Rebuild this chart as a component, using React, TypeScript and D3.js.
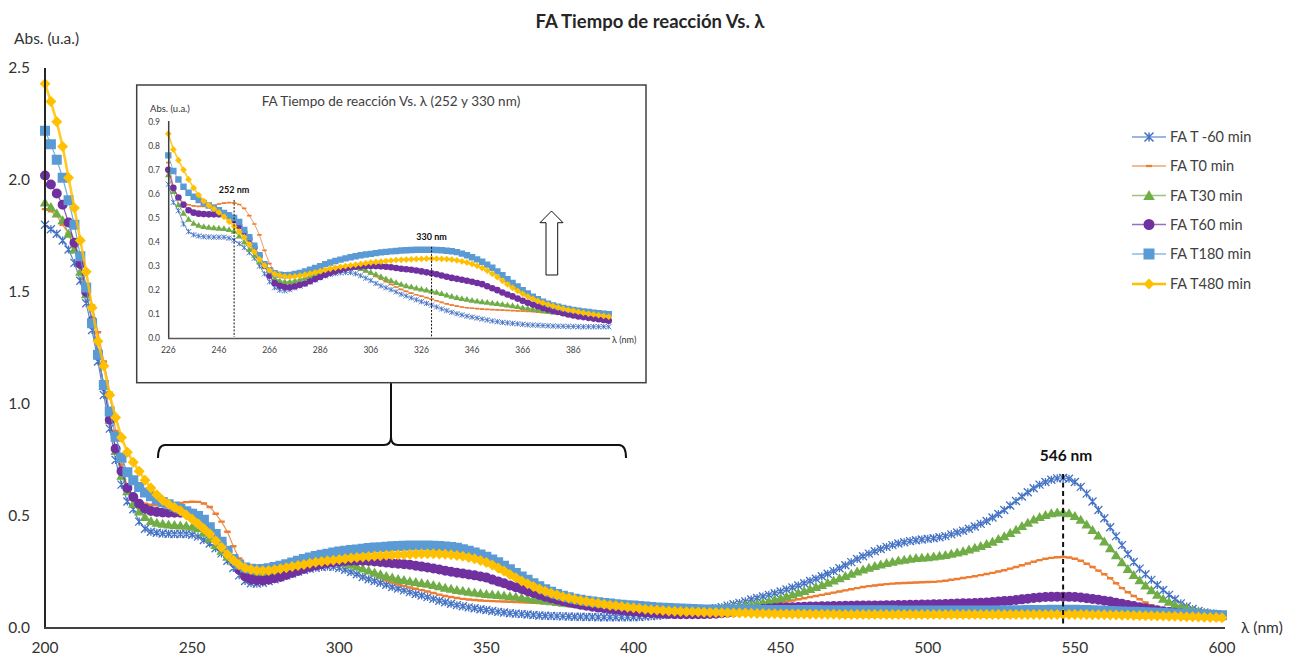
import React from "react";
import * as d3 from "d3";

// Absorbance spectra of FA at different reaction times, sampled every 2 nm from 200 to 600 nm.
const START_NM = 200;
const STEP_NM = 2;

const tMinus60 = [
  1.80, 1.78, 1.76, 1.73, 1.69, 1.63, 1.55, 1.45, 1.33, 1.19,
  1.04, 0.89, 0.75, 0.64, 0.565, 0.53, 0.475, 0.443, 0.43, 0.425,
  0.422, 0.421, 0.42, 0.42, 0.42, 0.416, 0.408, 0.393, 0.377, 0.356,
  0.333, 0.30, 0.268, 0.235, 0.21, 0.20, 0.198, 0.202, 0.21, 0.218,
  0.226, 0.235, 0.243, 0.252, 0.259, 0.265, 0.269, 0.272, 0.274, 0.273,
  0.268, 0.26, 0.25, 0.24, 0.228, 0.218, 0.21, 0.202, 0.193, 0.183,
  0.176, 0.168, 0.16, 0.152, 0.145, 0.138, 0.13, 0.122, 0.115, 0.108,
  0.102, 0.097, 0.092, 0.088, 0.084, 0.08, 0.076, 0.072, 0.069, 0.066,
  0.064, 0.062, 0.06, 0.058, 0.056, 0.055, 0.054, 0.053, 0.052, 0.051,
  0.05, 0.05, 0.049, 0.049, 0.048, 0.048, 0.048, 0.048, 0.048, 0.048,
  0.048, 0.049, 0.051, 0.053, 0.055, 0.058, 0.061, 0.064, 0.067, 0.07,
  0.073, 0.076, 0.08, 0.084, 0.088, 0.093, 0.1, 0.106, 0.112, 0.119,
  0.127, 0.134, 0.141, 0.148, 0.155, 0.163, 0.172, 0.181, 0.19, 0.2,
  0.21, 0.22, 0.231, 0.242, 0.254, 0.267, 0.28, 0.294, 0.308, 0.32,
  0.332, 0.343, 0.353, 0.362, 0.37, 0.377, 0.383, 0.388, 0.392, 0.395,
  0.398, 0.401, 0.405, 0.41, 0.418, 0.426, 0.434, 0.443, 0.453, 0.465,
  0.478, 0.493, 0.509, 0.527, 0.547, 0.567, 0.587, 0.606, 0.624, 0.64,
  0.652, 0.662, 0.668, 0.67, 0.666, 0.652, 0.63, 0.60, 0.565, 0.527,
  0.49, 0.45, 0.41, 0.37, 0.33, 0.295, 0.265, 0.24, 0.215, 0.192,
  0.17, 0.148, 0.128, 0.11, 0.096, 0.085, 0.076, 0.069, 0.064, 0.06,
  0.057,
];

const t0 = [
  1.87, 1.86, 1.84, 1.80, 1.76, 1.70, 1.62, 1.53, 1.44, 1.32,
  1.19, 1.05, 0.88, 0.73, 0.63, 0.585, 0.565, 0.555, 0.55, 0.548,
  0.548, 0.55, 0.553, 0.558, 0.562, 0.564, 0.563, 0.556, 0.54, 0.51,
  0.475, 0.43, 0.365, 0.31, 0.28, 0.265, 0.258, 0.256, 0.258, 0.261,
  0.265, 0.27, 0.276, 0.282, 0.287, 0.291, 0.295, 0.297, 0.298, 0.296,
  0.292, 0.286, 0.278, 0.268, 0.257, 0.246, 0.235, 0.224, 0.213, 0.203,
  0.195, 0.188, 0.181, 0.175, 0.169, 0.163, 0.156, 0.149, 0.143, 0.138,
  0.134, 0.13, 0.127, 0.125, 0.123, 0.121, 0.12, 0.119, 0.118, 0.117,
  0.116, 0.115, 0.114, 0.113, 0.112, 0.111, 0.109, 0.107, 0.105, 0.103,
  0.101, 0.099, 0.097, 0.095, 0.093, 0.091, 0.089, 0.087, 0.085, 0.083,
  0.082, 0.08, 0.079, 0.078, 0.077, 0.076, 0.076, 0.076, 0.076, 0.076,
  0.077, 0.078, 0.079, 0.08, 0.082, 0.084, 0.086, 0.088, 0.09, 0.093,
  0.096, 0.099, 0.102, 0.105, 0.109, 0.113, 0.118, 0.123, 0.128, 0.133,
  0.138, 0.143, 0.148, 0.153, 0.158, 0.163, 0.168, 0.173, 0.178, 0.183,
  0.187, 0.19, 0.193, 0.196, 0.198, 0.2, 0.201, 0.202, 0.203, 0.204,
  0.205, 0.206, 0.208, 0.211, 0.215, 0.219, 0.223, 0.227, 0.231, 0.236,
  0.241, 0.246, 0.252, 0.258, 0.265, 0.272, 0.28, 0.288, 0.296, 0.303,
  0.309, 0.313, 0.316, 0.317, 0.315, 0.309, 0.30, 0.287, 0.272, 0.256,
  0.24, 0.222, 0.20, 0.178, 0.16, 0.143, 0.128, 0.114, 0.102, 0.092,
  0.084, 0.077, 0.071, 0.066, 0.062, 0.059, 0.057, 0.055, 0.054, 0.053,
  0.052,
];

const t30 = [
  1.90, 1.88, 1.85, 1.82, 1.76, 1.69, 1.59, 1.49, 1.37, 1.23,
  1.08, 0.93, 0.79, 0.68, 0.61, 0.555, 0.52, 0.495, 0.478, 0.47,
  0.465, 0.462, 0.46, 0.458, 0.456, 0.452, 0.445, 0.425, 0.40, 0.37,
  0.345, 0.318, 0.298, 0.27, 0.25, 0.24, 0.236, 0.236, 0.24, 0.246,
  0.252, 0.259, 0.266, 0.273, 0.279, 0.285, 0.29, 0.294, 0.297, 0.297,
  0.295, 0.29, 0.283, 0.275, 0.266, 0.257, 0.248, 0.24, 0.232, 0.225,
  0.219, 0.214, 0.209, 0.205, 0.201, 0.197, 0.192, 0.186, 0.18, 0.175,
  0.17, 0.166, 0.162, 0.158, 0.155, 0.152, 0.15, 0.147, 0.145, 0.142,
  0.139, 0.136, 0.132, 0.128, 0.125, 0.122, 0.119, 0.116, 0.113, 0.11,
  0.107, 0.104, 0.101, 0.099, 0.097, 0.095, 0.093, 0.091, 0.089, 0.087,
  0.085, 0.083, 0.082, 0.081, 0.08, 0.079, 0.079, 0.079, 0.079, 0.079,
  0.08, 0.081, 0.082, 0.084, 0.086, 0.088, 0.09, 0.093, 0.096, 0.099,
  0.104, 0.109, 0.114, 0.12, 0.127, 0.134, 0.141, 0.149, 0.157, 0.165,
  0.174, 0.183, 0.192, 0.202, 0.212, 0.222, 0.232, 0.242, 0.252, 0.261,
  0.269, 0.277, 0.284, 0.29, 0.296, 0.301, 0.305, 0.309, 0.312, 0.314,
  0.316, 0.319, 0.322, 0.326, 0.331, 0.337, 0.343, 0.35, 0.358, 0.366,
  0.375, 0.385, 0.397, 0.41, 0.424, 0.439, 0.455, 0.47, 0.484, 0.496,
  0.505, 0.512, 0.516, 0.517, 0.512, 0.50, 0.483, 0.462, 0.438, 0.413,
  0.386, 0.356, 0.325, 0.293, 0.263, 0.237, 0.213, 0.19, 0.168, 0.148,
  0.131, 0.117, 0.105, 0.095, 0.087, 0.08, 0.074, 0.069, 0.065, 0.062,
  0.058,
];

const t60 = [
  2.02, 1.98, 1.94, 1.89, 1.81, 1.72, 1.625, 1.50, 1.37, 1.22,
  1.08, 0.93, 0.80, 0.70, 0.625, 0.585, 0.555, 0.532, 0.522, 0.518,
  0.516, 0.515, 0.515, 0.515, 0.513, 0.51, 0.49, 0.467, 0.44, 0.413,
  0.377, 0.343, 0.302, 0.26, 0.23, 0.218, 0.213, 0.212, 0.216, 0.222,
  0.228, 0.237, 0.246, 0.255, 0.264, 0.272, 0.279, 0.285, 0.29, 0.294,
  0.297, 0.299, 0.30, 0.30, 0.30, 0.299, 0.297, 0.295, 0.292, 0.289,
  0.287, 0.285, 0.282, 0.278, 0.274, 0.27, 0.266, 0.261, 0.256, 0.251,
  0.247, 0.243, 0.239, 0.235, 0.23, 0.225, 0.216, 0.208, 0.20, 0.19,
  0.182, 0.174, 0.165, 0.156, 0.148, 0.14, 0.133, 0.126, 0.12, 0.114,
  0.109, 0.104, 0.099, 0.095, 0.091, 0.088, 0.085, 0.082, 0.079, 0.076,
  0.073, 0.071, 0.069, 0.067, 0.065, 0.064, 0.063, 0.062, 0.061, 0.061,
  0.061, 0.061, 0.062, 0.063, 0.064, 0.066, 0.068, 0.07, 0.073, 0.076,
  0.079, 0.082, 0.085, 0.087, 0.089, 0.091, 0.092, 0.093, 0.094, 0.095,
  0.096, 0.096, 0.097, 0.097, 0.098, 0.098, 0.099, 0.099, 0.1, 0.1,
  0.1, 0.101, 0.101, 0.102, 0.102, 0.103, 0.103, 0.104, 0.104, 0.105,
  0.105, 0.106, 0.106, 0.107, 0.108, 0.109, 0.11, 0.111, 0.112, 0.113,
  0.114, 0.116, 0.118, 0.12, 0.122, 0.125, 0.128, 0.131, 0.134, 0.136,
  0.138, 0.139, 0.14, 0.14, 0.139, 0.138, 0.136, 0.133, 0.13, 0.126,
  0.122, 0.118, 0.113, 0.108, 0.103, 0.098, 0.093, 0.088, 0.083, 0.079,
  0.075, 0.071, 0.068, 0.065, 0.062, 0.06, 0.058, 0.056, 0.055, 0.054,
  0.053,
];

const t180 = [
  2.22, 2.16, 2.09, 2.01, 1.91, 1.80, 1.66, 1.52, 1.36, 1.22,
  1.085, 0.966, 0.854, 0.76, 0.695, 0.66, 0.63, 0.605, 0.588, 0.574,
  0.562, 0.552, 0.542, 0.532, 0.521, 0.51, 0.50, 0.483, 0.45, 0.42,
  0.385, 0.345, 0.308, 0.283, 0.27, 0.264, 0.262, 0.263, 0.267, 0.272,
  0.278, 0.285, 0.292, 0.30, 0.308, 0.315, 0.321, 0.327, 0.332, 0.337,
  0.341, 0.345, 0.348, 0.351, 0.354, 0.357, 0.359, 0.361, 0.363, 0.365,
  0.366, 0.367, 0.368, 0.368, 0.368, 0.368, 0.367, 0.366, 0.364, 0.362,
  0.358, 0.352, 0.345, 0.337, 0.328, 0.318, 0.306, 0.293, 0.278, 0.262,
  0.246, 0.23, 0.215, 0.20, 0.186, 0.173, 0.162, 0.152, 0.144, 0.137,
  0.131, 0.126, 0.122, 0.118, 0.115, 0.112, 0.109, 0.106, 0.104, 0.102,
  0.10, 0.098, 0.096, 0.094, 0.092, 0.09, 0.089, 0.088, 0.087, 0.086,
  0.085, 0.084, 0.083, 0.083, 0.082, 0.082, 0.082, 0.081, 0.081, 0.081,
  0.081, 0.081, 0.08, 0.08, 0.08, 0.08, 0.08, 0.08, 0.08, 0.08,
  0.08, 0.08, 0.079, 0.079, 0.079, 0.079, 0.079, 0.079, 0.079, 0.079,
  0.079, 0.079, 0.079, 0.079, 0.079, 0.078, 0.078, 0.078, 0.078, 0.078,
  0.078, 0.078, 0.078, 0.078, 0.078, 0.078, 0.078, 0.078, 0.078, 0.078,
  0.078, 0.078, 0.078, 0.079, 0.079, 0.079, 0.079, 0.08, 0.08, 0.08,
  0.08, 0.081, 0.081, 0.081, 0.081, 0.081, 0.08, 0.08, 0.079, 0.078,
  0.077, 0.076, 0.075, 0.074, 0.073, 0.072, 0.071, 0.07, 0.069, 0.068,
  0.067, 0.066, 0.065, 0.064, 0.063, 0.062, 0.061, 0.06, 0.059, 0.058,
  0.057,
];

const t480 = [
  2.43, 2.35, 2.26, 2.15, 2.01, 1.875, 1.73, 1.59, 1.43, 1.28,
  1.17, 1.04, 0.94, 0.85, 0.785, 0.74, 0.70, 0.66, 0.625, 0.595,
  0.57, 0.552, 0.538, 0.523, 0.505, 0.485, 0.465, 0.443, 0.42, 0.39,
  0.36, 0.328, 0.302, 0.282, 0.268, 0.261, 0.257, 0.256, 0.257, 0.26,
  0.264, 0.269, 0.274, 0.279, 0.284, 0.289, 0.293, 0.297, 0.30, 0.303,
  0.306, 0.309, 0.312, 0.315, 0.317, 0.319, 0.321, 0.323, 0.325, 0.326,
  0.327, 0.328, 0.329, 0.33, 0.331, 0.331, 0.331, 0.33, 0.329, 0.327,
  0.324, 0.32, 0.315, 0.309, 0.301, 0.292, 0.281, 0.268, 0.254, 0.239,
  0.224, 0.21, 0.197, 0.185, 0.174, 0.164, 0.155, 0.147, 0.14, 0.134,
  0.128, 0.123, 0.118, 0.114, 0.11, 0.106, 0.102, 0.099, 0.096, 0.093,
  0.09, 0.087, 0.084, 0.082, 0.08, 0.078, 0.076, 0.075, 0.074, 0.073,
  0.072, 0.071, 0.07, 0.069, 0.069, 0.068, 0.068, 0.067, 0.067, 0.067,
  0.066, 0.065, 0.065, 0.064, 0.064, 0.063, 0.063, 0.062, 0.062, 0.062,
  0.061, 0.061, 0.061, 0.061, 0.061, 0.06, 0.06, 0.06, 0.06, 0.06,
  0.06, 0.06, 0.06, 0.06, 0.06, 0.06, 0.06, 0.06, 0.06, 0.06,
  0.06, 0.06, 0.06, 0.06, 0.06, 0.06, 0.06, 0.06, 0.06, 0.06,
  0.06, 0.06, 0.06, 0.06, 0.06, 0.06, 0.06, 0.06, 0.06, 0.06,
  0.06, 0.06, 0.06, 0.06, 0.06, 0.06, 0.06, 0.06, 0.059, 0.059,
  0.059, 0.058, 0.058, 0.057, 0.057, 0.056, 0.056, 0.055, 0.055, 0.054,
  0.054, 0.053, 0.052, 0.051, 0.05, 0.05, 0.049, 0.048, 0.047, 0.047,
  0.046,
];

const seriesNames = ["FA T -60 min", "FA T0 min", "FA T30 min", "FA T60 min", "FA T180 min", "FA T480 min"];
const seriesValues = [tMinus60, t0, t30, t60, t180, t480];
const seriesColors = ["#4472C4", "#ED7D31", "#70AD47", "#7030A0", "#5B9BD5", "#FFC000"];
const seriesMarkers = ["star", "dash", "triangle", "circle", "square", "diamond"];

const mainXTicks = [200, 250, 300, 350, 400, 450, 500, 550, 600];
const mainYTicks = [0, 0.5, 1.0, 1.5, 2.0, 2.5];
const insetXTicks = [226, 246, 266, 286, 306, 326, 346, 366, 386];
const insetYTicks = [0, 0.1, 0.2, 0.3, 0.4, 0.5, 0.6, 0.7, 0.8, 0.9];
const insetRange = [226, 400];
const mainPeakNm = 546;
const insetPeaksNm = [252, 330];

const FONT = "Lato, 'Open Sans', 'Liberation Sans', sans-serif";

type Pt = { nm: number; v: number };

const seriesPoints: Pt[][] = seriesValues.map((vals) =>
  vals.map((v, i) => ({ nm: START_NM + i * STEP_NM, v }))
);

function valueAt(vals: number[], nm: number): number {
  return vals[Math.round((nm - START_NM) / STEP_NM)];
}

// One marker glyph as path data, centred on (x, y) with half-size s.
function markerPath(kind: string, x: number, y: number, s: number): string {
  switch (kind) {
    case "star":
      return `M${x - s},${y - s}L${x + s},${y + s}M${x - s},${y + s}L${x + s},${y - s}M${x},${y - s}L${x},${y + s}`;
    case "dash":
      return `M${x - s},${y - s * 0.38}h${2 * s}v${s * 0.76}h${-2 * s}Z`;
    case "triangle":
      return `M${x},${y - s}L${x + s * 1.05},${y + s * 0.8}L${x - s * 1.05},${y + s * 0.8}Z`;
    case "circle":
      return `M${x - s},${y}a${s},${s} 0 1,0 ${2 * s},0a${s},${s} 0 1,0 ${-2 * s},0Z`;
    case "square":
      return `M${x - s},${y - s}h${2 * s}v${2 * s}h${-2 * s}Z`;
    case "diamond":
      return `M${x},${y - s}L${x + s},${y}L${x},${y + s}L${x - s},${y}Z`;
    default:
      return "";
  }
}

function SeriesLayer(props: {
  pts: Pt[];
  kind: string;
  color: string;
  x: d3.ScaleLinear<number, number>;
  y: d3.ScaleLinear<number, number>;
  size: number;
  lineWidth: number;
}) {
  const { pts, kind, color, x, y, size, lineWidth } = props;
  const line = d3
    .line<Pt>()
    .x((d) => x(d.nm))
    .y((d) => y(d.v));
  const marks = pts.map((d) => markerPath(kind, x(d.nm), y(d.v), size)).join("");
  const isStroke = kind === "star";
  return (
    <g>
      <path d={line(pts) || ""} fill="none" stroke={color} strokeWidth={lineWidth} strokeOpacity={0.85} />
      {isStroke ? (
        <path d={marks} fill="none" stroke={color} strokeWidth={size > 3 ? 1.3 : 0.9} />
      ) : (
        <path d={marks} fill={color} stroke="none" />
      )}
    </g>
  );
}

const mainSizes: Record<string, number> = { star: 4, dash: 3.2, triangle: 5, circle: 5, square: 5, diamond: 5.5 };
const insetSizes: Record<string, number> = { star: 2.6, dash: 2.2, triangle: 3.2, circle: 3.3, square: 3.2, diamond: 3.4 };

export default function App() {
  const W = 1291;
  const H = 656;

  // Main plot scales
  const x = d3.scaleLinear().domain([200, 600]).range([45, 1222]);
  const y = d3.scaleLinear().domain([0, 2.5]).range([628, 68]);

  // Inset plot scales
  const xi = d3.scaleLinear().domain([226, 386]).range([168.3, 573.3]);
  const yi = d3.scaleLinear().domain([0, 0.9]).range([338.3, 121.7]);
  const insetPoints = seriesPoints.map((pts) => pts.filter((d) => d.nm >= insetRange[0] && d.nm <= insetRange[1]));

  const peakTop = d3.max(seriesValues, (vals) => valueAt(vals, mainPeakNm)) as number;

  const legendY = [137, 166, 195.5, 224.5, 254, 284];

  return (
    <svg
      width={W}
      height={H}
      viewBox={`0 0 ${W} ${H}`}
      style={{ position: "absolute", left: 0, top: 0, background: "#fff" }}
      fontFamily={FONT}
    >
      <rect x={0} y={0} width={W} height={H} fill="#fff" />

      {/* Title */}
      <text x={650} y={28} textAnchor="middle" fontSize={18.5} fontWeight="bold" fill="#262626">
        FA Tiempo de reacción Vs. λ
      </text>

      {/* Axis titles */}
      <text x={14} y={44} fontSize={15.5} fill="#333">Abs. (u.a.)</text>
      <text x={1241} y={633} fontSize={15.5} fill="#333">λ (nm)</text>

      {/* Series */}
      {seriesPoints.map((pts, i) => (
        <SeriesLayer
          key={seriesNames[i]}
          pts={pts}
          kind={seriesMarkers[i]}
          color={seriesColors[i]}
          x={x}
          y={y}
          size={mainSizes[seriesMarkers[i]]}
          lineWidth={seriesMarkers[i] === "diamond" ? 2.6 : 1.2}
        />
      ))}

      {/* Axes */}
      <line x1={45} x2={45} y1={68} y2={629} stroke="#262626" strokeWidth={2} />
      <line x1={44} x2={1225} y1={628} y2={628} stroke="#404040" strokeWidth={2} />
      {mainYTicks.map((t) => (
        <text key={t} x={30} y={y(t) + 5} textAnchor="end" fontSize={15.5} fill="#333">
          {t.toFixed(1)}
        </text>
      ))}
      {mainXTicks.map((t) => (
        <text key={t} x={x(t)} y={653} textAnchor="middle" fontSize={15.5} fill="#333">
          {t}
        </text>
      ))}

      {/* Peak marker at 546 nm */}
      <line
        x1={x(mainPeakNm)}
        x2={x(mainPeakNm)}
        y1={y(peakTop) - 4}
        y2={627}
        stroke="#111"
        strokeWidth={2}
        strokeDasharray="5,3.5"
      />
      <text x={x(mainPeakNm) + 3} y={y(peakTop) - 17} textAnchor="middle" fontSize={15.5} fontWeight="bold" fill="#111">
        {mainPeakNm} nm
      </text>

      {/* Brace linking the zoomed range to the inset */}
      <path
        d="M158,458 Q158,445 165,445 L384,445 Q391,445 391,437 Q391,445 398,445 L619,445 Q626,445 626,458"
        fill="none"
        stroke="#111"
        strokeWidth={2}
      />
      <line x1={391} x2={391} y1={383} y2={437} stroke="#111" strokeWidth={2} />

      {/* Inset */}
      <rect x={136.7} y={85} width={509.3} height={297.7} fill="#fff" stroke="#404040" strokeWidth={1.5} />
      <text x={391} y={106} textAnchor="middle" fontSize={13.5} fill="#404040">
        FA Tiempo de reacción Vs. λ (252 y 330 nm)
      </text>
      <text x={150} y={112} fontSize={9.5} fill="#333">Abs. (u.a.)</text>
      {insetPoints.map((pts, i) => (
        <SeriesLayer
          key={"inset" + seriesNames[i]}
          pts={pts}
          kind={seriesMarkers[i]}
          color={seriesColors[i]}
          x={xi}
          y={yi}
          size={insetSizes[seriesMarkers[i]]}
          lineWidth={seriesMarkers[i] === "diamond" ? 1.6 : 0.9}
        />
      ))}
      <line x1={168.7} x2={168.7} y1={121} y2={339} stroke="#404040" strokeWidth={1.5} />
      <line x1={168} x2={610} y1={338.5} y2={338.5} stroke="#595959" strokeWidth={1.5} />
      {insetYTicks.map((t) => (
        <text key={t} x={160} y={yi(t) + 3} textAnchor="end" fontSize={8.5} fill="#404040">
          {t.toFixed(1)}
        </text>
      ))}
      {insetXTicks.map((t) => (
        <text key={t} x={xi(t)} y={353} textAnchor="middle" fontSize={8.5} fill="#404040">
          {t}
        </text>
      ))}
      <text x={612} y={343} fontSize={9} fill="#333">λ (nm)</text>
      {insetPeaksNm.map((nm) => {
        const top = d3.max(seriesValues, (vals) => valueAt(vals, nm)) as number;
        const yTop = yi(top + 0.012);
        return (
          <g key={nm}>
            <line x1={xi(nm)} x2={xi(nm)} y1={yTop} y2={337} stroke="#111" strokeWidth={1} strokeDasharray="2,1.5" />
            <text x={xi(nm)} y={yTop - 7} textAnchor="middle" fontSize={9} fontWeight="bold" fill="#111">
              {nm} nm
            </text>
          </g>
        );
      })}
      {/* Upward arrow */}
      <path
        d="M551.5,211 L563,222.7 L557.7,222.7 L557.7,275 L546,275 L546,222.7 L540,222.7 Z"
        fill="#fff"
        stroke="#111"
        strokeWidth={1}
      />

      {/* Legend */}
      {seriesNames.map((name, i) => {
        const ly = legendY[i];
        const kind = seriesMarkers[i];
        const s = kind === "dash" ? 3 : kind === "star" ? 4.5 : 5.5;
        return (
          <g key={name}>
            <line
              x1={1132}
              x2={1166}
              y1={ly}
              y2={ly}
              stroke={seriesColors[i]}
              strokeWidth={kind === "diamond" ? 2.6 : 1.3}
              strokeOpacity={kind === "diamond" ? 1 : 0.7}
            />
            {kind === "star" ? (
              <path d={markerPath(kind, 1149, ly, s)} fill="none" stroke={seriesColors[i]} strokeWidth={1.5} />
            ) : (
              <path d={markerPath(kind, 1149, ly, s)} fill={seriesColors[i]} />
            )}
            <text x={1170} y={ly + 5} fontSize={14.5} fill="#404040">
              {name}
            </text>
          </g>
        );
      })}
    </svg>
  );
}
